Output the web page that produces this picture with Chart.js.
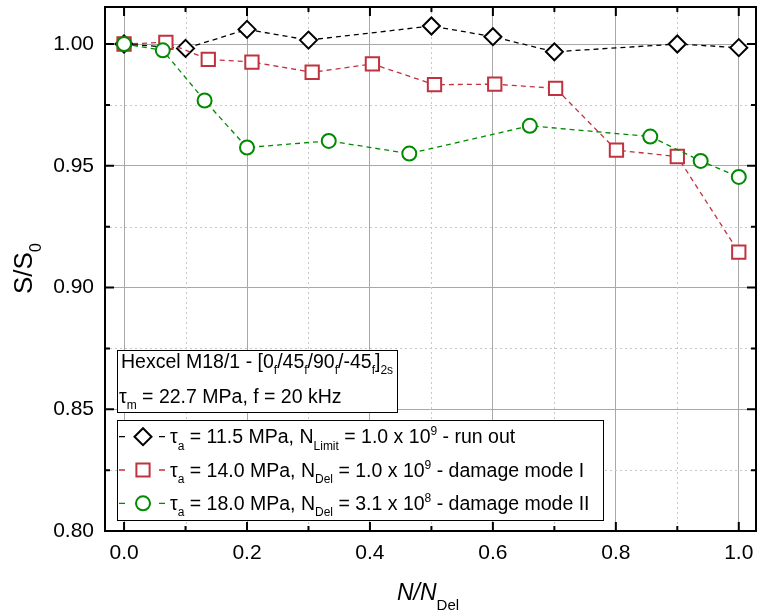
<!DOCTYPE html>
<html>
<head>
<meta charset="utf-8">
<script src="https://cdn.jsdelivr.net/npm/chart.js@4.4.1/dist/chart.umd.min.js"></script>
<style>
  html, body { margin: 0; padding: 0; background: #fff; }
  #wrap { width: 757px; height: 612px; }
</style>
</head>
<body>
<div id="wrap"><canvas id="fatigueChart" width="757" height="612"></canvas></div>
<script>
// stiffness ratio S/S0 over life fraction N/NDel
const runOutX = [0, 0.1, 0.2, 0.3, 0.5, 0.6, 0.7, 0.9, 1.0]
const runOutY = [1.000, 0.9982, 1.006, 1.0016, 1.0074, 1.003, 0.9968, 1.000, 0.9985]

const mode1X = [0, 0.068, 0.137, 0.208, 0.306, 0.404, 0.505, 0.603, 0.702, 0.801, 0.900, 1.0]
const mode1Y = [1.000, 1.0007, 0.9937, 0.9926, 0.9884, 0.9918, 0.9833, 0.9835, 0.9818, 0.9564, 0.9538, 0.9145]

const mode2X = [0, 0.063, 0.131, 0.200, 0.333, 0.464, 0.660, 0.856, 0.938, 1.0]
const mode2Y = [1.000, 0.9974, 0.9768, 0.9575, 0.9602, 0.955, 0.9664, 0.962, 0.952, 0.9454]

const xTicks = [0, 0.2, 0.4, 0.6, 0.8, 1.0]
const xMinor = [0.1, 0.3, 0.5, 0.7, 0.9]
const yTicks = [0.80, 0.85, 0.90, 0.95, 1.00]
const yMinor = [0.825, 0.875, 0.925, 0.975]

const FONT = "'Liberation Sans', Arial, sans-serif"
const RED = "#c0323f"
const GREEN = "#008a00"

function pts(xs, ys) {
    return xs.map((x, i) => ({ x: x, y: ys[i] }))
}

// draw a run of text with sub/superscripts, returns end x
function richText(ctx, x, y, parts, size, italic, subSize, subDrop) {
    subSize = subSize || Math.round(size * 0.64)
    subDrop = subDrop || size * 0.32
    for (let p of parts) {
        let txt = p[0], kind = p[1] || "n"
        let s = kind == "n" ? size : subSize
        let dy = kind == "sub" ? subDrop : (kind == "sup" ? -size * 0.42 : 0)
        let it = (kind == "n" && italic) ? "italic " : ""
        ctx.font = it + s + "px " + FONT
        ctx.fillText(txt, x, y + dy)
        x += ctx.measureText(txt).width
    }
    return x
}

function marker(ctx, style, color, x, y) {
    ctx.save()
    ctx.strokeStyle = color
    ctx.fillStyle = "#fff"
    ctx.lineWidth = 2
    ctx.setLineDash([])
    ctx.beginPath()
    if (style == "rectRot") {
        let r = 8.5
        ctx.moveTo(x - r, y); ctx.lineTo(x, y - r); ctx.lineTo(x + r, y); ctx.lineTo(x, y + r); ctx.closePath()
    } else if (style == "rect") {
        let h = 6.6
        ctx.rect(x - h, y - h, 2 * h, 2 * h)
    } else {
        ctx.arc(x, y, 7, 0, Math.PI * 2)
    }
    ctx.fill()
    ctx.stroke()
    ctx.restore()
}

const legendRows = [
    { style: "rectRot", color: "#000", parts: [["τ"], ["a", "sub"], [" = 11.5 MPa, N"], ["Limit", "sub"], [" = 1.0 x 10"], ["9", "sup"], [" - run out"]] },
    { style: "rect", color: RED, parts: [["τ"], ["a", "sub"], [" = 14.0 MPa, N"], ["Del", "sub"], [" = 1.0 x 10"], ["9", "sup"], [" - damage mode I"]] },
    { style: "circle", color: GREEN, parts: [["τ"], ["a", "sub"], [" = 18.0 MPa, N"], ["Del", "sub"], [" = 3.1 x 10"], ["8", "sup"], [" - damage mode II"]] }
]

const decorations = {
    id: "decorations",
    beforeDatasetsDraw(chart) {
        const ctx = chart.ctx
        const a = chart.chartArea
        const xs = chart.scales.x, ys = chart.scales.y
        ctx.save()
        ctx.strokeStyle = "#c8c8c8"
        ctx.lineWidth = 1
        ctx.setLineDash([2, 3])
        for (let v of xMinor) {
            let px = Math.round(xs.getPixelForValue(v)) + 0.5
            ctx.beginPath(); ctx.moveTo(px, a.top); ctx.lineTo(px, a.bottom); ctx.stroke()
        }
        for (let v of yMinor) {
            let py = Math.round(ys.getPixelForValue(v)) + 0.5
            ctx.beginPath(); ctx.moveTo(a.left, py); ctx.lineTo(a.right, py); ctx.stroke()
        }
        ctx.restore()
    },
    afterDatasetsDraw(chart) {
        const ctx = chart.ctx
        const a = chart.chartArea
        const xs = chart.scales.x, ys = chart.scales.y
        ctx.save()

        // frame and inward ticks
        ctx.strokeStyle = "#000"
        ctx.lineWidth = 2
        ctx.setLineDash([])
        ctx.strokeRect(a.left, a.top, a.right - a.left, a.bottom - a.top)
        const tick = (v, len) => {
            let px = xs.getPixelForValue(v)
            ctx.beginPath()
            ctx.moveTo(px, a.bottom); ctx.lineTo(px, a.bottom - len)
            ctx.moveTo(px, a.top); ctx.lineTo(px, a.top + len)
            ctx.stroke()
        }
        const ytick = (v, len) => {
            let py = ys.getPixelForValue(v)
            ctx.beginPath()
            ctx.moveTo(a.left, py); ctx.lineTo(a.left + len, py)
            ctx.moveTo(a.right, py); ctx.lineTo(a.right - len, py)
            ctx.stroke()
        }
        xTicks.forEach(v => tick(v, 9))
        xMinor.forEach(v => tick(v, 5))
        yTicks.forEach(v => ytick(v, 9))
        yMinor.forEach(v => ytick(v, 5))

        // material annotation box
        ctx.fillStyle = "#fff"
        ctx.fillRect(117, 350, 280, 62)
        ctx.lineWidth = 1
        ctx.strokeStyle = "#000"
        ctx.strokeRect(117.5, 350.5, 280, 62)
        ctx.fillStyle = "#000"
        ctx.textAlign = "left"
        ctx.textBaseline = "alphabetic"
        richText(ctx, 121, 368, [["Hexcel M18/1 - [0"], ["f", "sub"], ["/45"], ["f", "sub"], ["/90"], ["f", "sub"], ["/-45"], ["f", "sub"], ["]"], ["2s", "sub"]], 19.5)
        richText(ctx, 119, 402.5, [["τ"], ["m", "sub"], [" = 22.7 MPa, f = 20 kHz"]], 19.5)

        // legend box
        ctx.fillStyle = "#fff"
        ctx.fillRect(117, 420, 486, 100)
        ctx.strokeRect(117.5, 420.5, 486, 100)
        legendRows.forEach((row, i) => {
            let cy = 436.7 + i * 33.3
            ctx.strokeStyle = row.color
            ctx.lineWidth = 1.3
            ctx.beginPath()
            ctx.moveTo(119, cy); ctx.lineTo(125, cy)
            ctx.moveTo(159, cy); ctx.lineTo(165, cy)
            ctx.stroke()
            marker(ctx, row.style, row.color, 143, cy)
            ctx.fillStyle = "#000"
            richText(ctx, 170, cy + 6.7, row.parts, 19.5)
        })

        // axis titles
        ctx.fillStyle = "#000"
        richText(ctx, 397, 600, [["N/N"], ["Del", "sub"]], 23, true, 15, 10)
        ctx.translate(32, 294)
        ctx.rotate(-Math.PI / 2)
        richText(ctx, 0, 0, [["S/S"], ["0", "sub"]], 26, false, 16, 9)
        ctx.restore()
    }
}

function lineSet(label, xs, ys, color, style, radius, order) {
    return {
        label: label,
        data: pts(xs, ys),
        showLine: true,
        borderColor: color,
        borderWidth: 1.3,
        borderDash: [5, 4],
        pointStyle: style,
        pointRadius: radius,
        pointHoverRadius: radius,
        pointBorderColor: color,
        pointBackgroundColor: "#fff",
        pointBorderWidth: 2,
        tension: 0,
        order: order
    }
}

function noPad(s) {
    s.paddingTop = 0
    s.paddingBottom = 0
    s.paddingLeft = 0
    s.paddingRight = 0
}

new Chart("fatigueChart", {
    type: "scatter",
    data: {
        datasets: [
            lineSet("run out", runOutX, runOutY, "#000", "rectRot", 8.5, 2),
            lineSet("damage mode I", mode1X, mode1Y, RED, "rect", 9.4, 1),
            lineSet("damage mode II", mode2X, mode2Y, GREEN, "circle", 7, 0)
        ]
    },
    options: {
        responsive: false,
        animation: false,
        layout: { autoPadding: false, padding: { top: 7, right: 1, left: 0, bottom: 0 } },
        plugins: {
            legend: { display: false },
            tooltip: { enabled: false }
        },
        scales: {
            x: {
                type: "linear",
                min: -0.031,
                max: 1.028,
                afterBuildTicks: s => { s.ticks = xTicks.map(v => ({ value: v })) },
                afterFit: s => { s.height = 81; noPad(s) },
                grid: { color: "#a8a8a8", lineWidth: 1, drawTicks: false },
                border: { display: false },
                ticks: {
                    padding: 10,
                    color: "#000",
                    font: { family: FONT, size: 21 },
                    maxRotation: 0,
                    callback: v => Number(v).toFixed(1)
                }
            },
            y: {
                type: "linear",
                min: 0.80,
                max: 1.0152,
                afterBuildTicks: s => { s.ticks = yTicks.map(v => ({ value: v })) },
                afterFit: s => { s.width = 105; noPad(s) },
                grid: { color: "#a8a8a8", lineWidth: 1, drawTicks: false },
                border: { display: false },
                ticks: {
                    padding: 11,
                    color: "#000",
                    font: { family: FONT, size: 21 },
                    callback: v => Number(v).toFixed(2)
                }
            }
        }
    },
    plugins: [decorations]
})
</script>
</body>
</html>
